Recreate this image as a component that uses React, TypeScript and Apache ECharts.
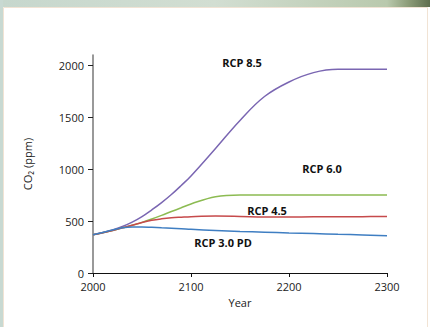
import React, { useEffect, useRef } from "react";
import * as echarts from "echarts";

const years = [2000, 2010, 2020, 2030, 2040, 2050, 2060, 2070, 2080, 2090, 2100, 2125, 2150, 2175, 2200, 2225, 2250, 2275, 2300];
const rcp85 = [368, 390, 415, 448, 490, 543, 608, 678, 756, 843, 935, 1200, 1470, 1700, 1840, 1930, 1962, 1962, 1962];
const rcp60 = [368, 388, 410, 435, 460, 488, 520, 555, 592, 628, 665, 735, 752, 752, 752, 752, 752, 752, 752];
const rcp45 = [368, 388, 410, 435, 460, 487, 508, 522, 532, 538, 543, 548, 545, 540, 540, 541, 542, 543, 545];
const rcp30 = [368, 390, 415, 435, 443, 443, 440, 436, 432, 427, 421, 410, 400, 393, 386, 380, 373, 367, 360];
const yTicks = [0, 500, 1000, 1500, 2000];
const seriesNames = ["RCP 8.5", "RCP 6.0", "RCP 4.5", "RCP 3.0 PD"];
const seriesColors = ["#7a66b2", "#8cbb52", "#c64a4b", "#3f7ec2"];

const FONT = "'Open Sans', 'Noto Sans', sans-serif";

export default function App() {
  const ref = useRef<HTMLDivElement>(null);
  useEffect(() => {
    if (!ref.current) return;
    const chart = echarts.init(ref.current, undefined, { renderer: "svg" });
    const all = [rcp85, rcp60, rcp45, rcp30];
    const series = all.map((vals, i) => ({
      name: seriesNames[i],
      type: "line",
      data: years.map((y, j) => [y, vals[j]]),
      smooth: 0.4,
      showSymbol: false,
      symbol: "none",
      lineStyle: { color: seriesColors[i], width: 1.5 },
      z: 3,
    }));
    chart.setOption({
      animation: false,
      backgroundColor: "#ffffff",
      grid: { left: 93, right: 43, top: 55, bottom: 54 },
      xAxis: {
        type: "value",
        min: 2000,
        max: 2300,
        interval: 100,
        name: "Year",
        nameLocation: "middle",
        nameGap: 22,
        nameTextStyle: { fontFamily: FONT, fontSize: 11, color: "#222" },
        axisLine: { lineStyle: { color: "#111", width: 1.2 } },
        axisTick: { show: true, length: 4, lineStyle: { color: "#111" } },
        axisLabel: { fontFamily: FONT, fontSize: 11, color: "#222", margin: 8, formatter: (v: number) => String(v) },
        splitLine: { show: false },
      },
      yAxis: {
        type: "value",
        min: 0,
        max: 2100,
        interval: 500,
        name: "CO₂ (ppm)",
        nameLocation: "middle",
        nameRotate: 90,
        nameGap: 60,
        nameTextStyle: { fontFamily: FONT, fontSize: 11, color: "#222" },
        axisLine: { show: true, lineStyle: { color: "#777", width: 1.5 } },
        axisTick: { show: true, length: 5, customValues: yTicks, lineStyle: { color: "#222" } },
        axisLabel: { fontFamily: FONT, fontSize: 11, color: "#222", margin: 9, customValues: yTicks, formatter: (v: number) => String(v) },
        splitLine: { show: false },
      },
      graphic: [
        {
          type: "rect",
          silent: true,
          shape: { x: 0, y: 0, width: 430, height: 7 },
          style: {
            fill: new echarts.graphic.LinearGradient(0, 0, 1, 0, [
              { offset: 0, color: "#c6d7cd" },
              { offset: 0.5, color: "#d2ded2" },
              { offset: 0.9, color: "#b9c9ad" },
              { offset: 0.95, color: "#8c9c78" },
              { offset: 1, color: "#5e6e4e" },
            ]),
          },
          z: 0,
        },
        {
          type: "rect",
          silent: true,
          shape: { x: 0, y: 0, width: 3, height: 327 },
          style: { fill: "#c8d9d2" },
          z: 0,
        },
        {
          type: "polyline",
          silent: true,
          shape: { points: [[3.5, 327], [3.5, 7.5], [427.5, 7.5], [427.5, 327]] },
          style: { stroke: "#f1e3d4", lineWidth: 1, fill: null },
          z: 0,
        },
        { type: "text", x: 242, y: 62, style: { text: "RCP 8.5", font: `bold 11px ${FONT}`, fill: "#111", textAlign: "center", textVerticalAlign: "middle" } },
        { type: "text", x: 322, y: 168, style: { text: "RCP 6.0", font: `bold 11px ${FONT}`, fill: "#111", textAlign: "center", textVerticalAlign: "middle" } },
        { type: "text", x: 267, y: 210, style: { text: "RCP 4.5", font: `bold 11px ${FONT}`, fill: "#111", textAlign: "center", textVerticalAlign: "middle" } },
        { type: "text", x: 223, y: 242, style: { text: "RCP 3.0 PD", font: `bold 11px ${FONT}`, fill: "#111", textAlign: "center", textVerticalAlign: "middle" } },
      ],
      series,
    });
    return () => chart.dispose();
  }, []);
  return <div ref={ref} style={{ position: "absolute", left: 0, top: 0, width: 430, height: 327 }} />;
}
